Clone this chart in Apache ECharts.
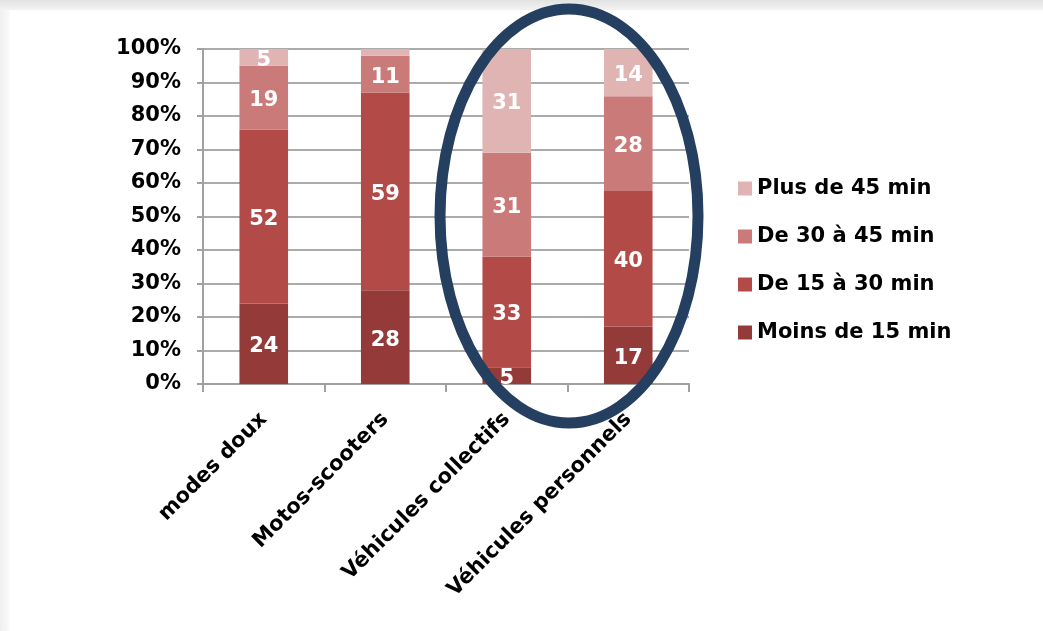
<!DOCTYPE html>
<html>
<head>
<meta charset="utf-8">
<script src="https://cdn.jsdelivr.net/npm/echarts@6/dist/echarts.min.js"></script>
<style>
html,body{margin:0;padding:0;background:#fff;}
#chart{width:1043px;height:631px;}
</style>
</head>
<body>
<div id="chart"></div>
<script>
// ---- data ----
const categories = ['modes doux', 'Motos-scooters', 'Véhicules collectifs', 'Véhicules personnels'];
const seriesNames = ['Moins de 15 min', 'De 15 à 30 min', 'De 30 à 45 min', 'Plus de 45 min'];
const moins15 = [24, 28, 5, 17];
const de15a30 = [52, 59, 33, 40];
const de30a45 = [19, 11, 31, 28];
const plus45  = [5, 2, 31, 14];
const hiddenLabels = [[], [], [], [1]]; // small segment with no label (Motos-scooters, Plus de 45 min)
const yTicks = [0, 10, 20, 30, 40, 50, 60, 70, 80, 90, 100];
const colors = ['#943a39', '#b24b48', '#ca7b79', '#e0b4b3'];

const raw = [moins15, de15a30, de30a45, plus45];
const totals = categories.map((c, i) => raw.reduce((s, arr) => s + arr[i], 0));

const FONT = 'DejaVu Sans';
const chart = echarts.init(document.getElementById('chart'), null, {renderer: 'canvas'});

const series = raw.map((arr, si) => ({
  name: seriesNames[si],
  type: 'bar',
  stack: 'total',
  barWidth: '40%',
  itemStyle: {color: colors[si]},
  label: {
    show: true,
    position: 'inside',
    offset: [0, 3],
    color: '#fff',
    fontFamily: FONT,
    fontWeight: 'bold',
    fontSize: 21,
    formatter: p => hiddenLabels[si].includes(p.dataIndex) ? '' : String(arr[p.dataIndex])
  },
  emphasis: {disabled: true},
  data: arr.map((v, i) => v / totals[i] * 100)
}));

chart.setOption({
  animation: false,
  backgroundColor: '#fff',
  grid: {left: 203, right: 354, top: 49, bottom: 247, containLabel: false},
  legend: {
    orient: 'vertical',
    left: 733,
    top: 173,
    itemWidth: 14,
    itemHeight: 14,
    itemGap: 27,
    icon: 'rect',
    data: seriesNames.slice().reverse(),
    textStyle: {fontFamily: FONT, fontWeight: 'bold', fontSize: 21, color: '#000'}
  },
  xAxis: {
    type: 'category',
    data: categories,
    axisLine: {show: true, lineStyle: {color: '#a0a0a0', width: 2}},
    axisTick: {show: true, length: 8, alignWithLabel: false, lineStyle: {color: '#a0a0a0', width: 2}},
    axisLabel: {
      rotate: 45,
      margin: 32,
      interval: 0,
      color: '#000',
      fontFamily: FONT,
      fontWeight: 'bold',
      fontSize: 21
    }
  },
  yAxis: {
    type: 'value',
    min: 0,
    max: 100,
    interval: 10,
    axisLine: {show: true, lineStyle: {color: '#a0a0a0', width: 2}},
    axisTick: {show: true, length: 6, lineStyle: {color: '#a0a0a0', width: 2}},
    splitLine: {show: true, lineStyle: {color: '#ababab', width: 2}},
    axisLabel: {
      margin: 22,
      color: '#000',
      fontFamily: FONT,
      fontWeight: 'bold',
      fontSize: 21,
      formatter: v => yTicks.includes(v) ? v + '%' : ''
    }
  },
  series: series,
  graphic: [
    {
      type: 'rect', z: 0, silent: true,
      shape: {x: 0, y: 0, width: 1043, height: 10},
      style: {fill: new echarts.graphic.LinearGradient(0, 0, 0, 1, [{offset: 0, color: '#e2e2e2'}, {offset: 1, color: '#f3f3f3'}])}
    },
    {
      type: 'rect', z: 0, silent: true,
      shape: {x: 0, y: 10, width: 10, height: 621},
      style: {fill: new echarts.graphic.LinearGradient(0, 0, 1, 0, [{offset: 0, color: '#efefef'}, {offset: 1, color: '#fbfbfb'}])}
    },
    {
      type: 'ellipse', z: 100, silent: true,
      shape: {cx: 569, cy: 216, rx: 129, ry: 207},
      style: {fill: null, stroke: '#243f60', lineWidth: 11}
    }
  ]
});
</script>
</body>
</html>
